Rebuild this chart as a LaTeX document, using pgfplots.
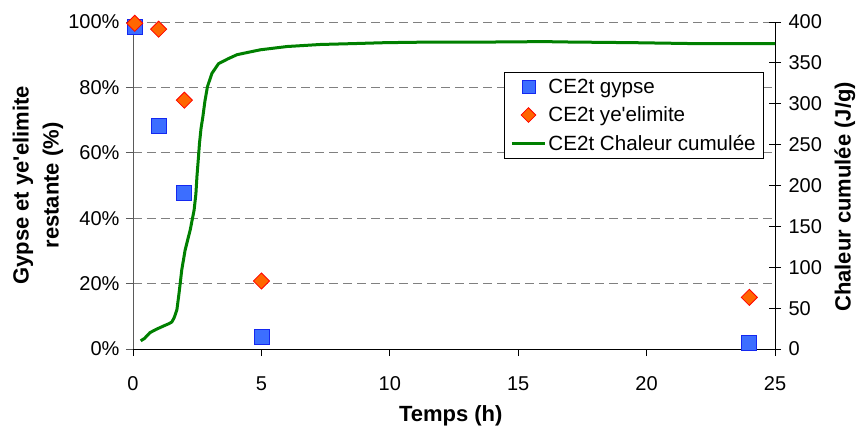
\documentclass[border=0pt]{standalone}
\usepackage{pgfplots}
\pgfplotsset{compat=1.18}
\usepackage{fontspec}
\setmainfont{Liberation Sans}
\definecolor{gridgray}{RGB}{128,128,128}
\definecolor{axgray}{RGB}{90,90,90}
\definecolor{sqfill}{RGB}{60,110,255}
\definecolor{sqdraw}{RGB}{20,40,240}
\definecolor{dfill}{RGB}{255,102,0}
\definecolor{ddraw}{RGB}{255,0,0}
\definecolor{heat}{RGB}{0,128,0}
\newcommand{\tickfont}{\fontsize{20}{22}\selectfont}
\newcommand{\labfont}{\fontsize{22}{30}\selectfont\bfseries}
\newcommand{\legfont}{\fontsize{20.6}{24}\selectfont}
\pgfplotsset{legimg/.style={legend image code/.code={\draw[mark repeat=2,mark phase=2,##1] plot coordinates {(0pt,0pt) (16.5pt,0pt) (33pt,0pt)};}}}
\begin{document}
\begin{tikzpicture}
\begin{axis}[
  name=a,
  scale only axis, width=642pt, height=327pt,
  xmin=0, xmax=25, ymin=0, ymax=100,
  axis x line*=bottom, axis y line*=left,
  x axis line style={-,black,line width=0.9pt},
  y axis line style={-,axgray,line width=0.9pt},
  xtick={0,5,10,15,20,25}, xticklabels={0,5,10,15,20,25},
  ytick={0,20,40,60,80,100}, yticklabels={0\%,20\%,40\%,60\%,80\%,100\%},
  tick align=outside, major tick length=7pt,
  xtick style={black,line width=0.8pt},
  ytick style={axgray,line width=0.8pt},
  ticklabel style={font=\tickfont},
  xticklabel style={yshift=-17pt},
  yticklabel style={xshift=-3pt},
  ymajorgrids, major grid style={gridgray,dash pattern=on 9pt off 5pt,line width=0.9pt},
  xlabel={Temps (h)},
  xlabel style={font=\labfont, at={(axis description cs:0.495,0)}, anchor=center, yshift=-67pt},
  ylabel={Gypse et ye\textquotesingle elimite\\restante (\%)},
  ylabel style={font=\labfont, align=center, at={(axis description cs:-0.148,0.5)}, anchor=center},
  clip=false,
]
\addplot[only marks, mark=square*, mark size=7.5pt, mark options={fill=sqfill, draw=sqdraw, line width=0.8pt}]
  coordinates {(0.07,98.6) (1,68.3) (2,47.8) (5,3.7) (24,1.8)};
\addplot[only marks, mark=square*, mark size=5.7pt, mark options={rotate=45, fill=dfill, draw=ddraw, line width=0.8pt}]
  coordinates {(0.07,99.6) (1,97.8) (2,76.1) (5,20.8) (24,15.8)};
\end{axis}
\begin{axis}[
  scale only axis, width=642pt, height=327pt,
  xmin=0, xmax=25, ymin=0, ymax=400,
  axis y line*=right, hide x axis,
  y axis line style={-,black,line width=0.9pt},
  ytick={0,50,100,150,200,250,300,350,400},
  yticklabels={0,50,100,150,200,250,300,350,400},
  tick align=center, major tick length=12pt,
  ytick style={black,line width=0.8pt},
  ticklabel style={font=\tickfont},
  yticklabel style={xshift=4pt},
  ylabel={Chaleur cumulée (J/g)},
  ylabel style={font=\labfont, at={(axis description cs:1.109,0.465)}, anchor=center},
  legend style={at={(0.578,0.847)}, anchor=north west, draw=black, line width=0.8pt, font=\legfont,
    inner xsep=6pt, inner ysep=4.5pt, row sep=8pt, cells={anchor=west}},
  legend cell align=left,
  legimg,
  clip=false,
]
\addlegendimage{only marks, mark=square*, mark size=6.5pt, mark options={fill=sqfill, draw=sqdraw, line width=0.8pt}, legimg}
\addlegendentry{CE2t gypse}
\addlegendimage{only marks, mark=square*, mark size=5.2pt, mark options={rotate=45, fill=dfill, draw=ddraw, line width=0.8pt}, legimg}
\addlegendentry{CE2t ye\textquotesingle elimite}
\addplot[heat, line width=3pt, line join=round, legimg] coordinates {
(0.30,10) (0.45,13) (0.66,20) (0.9,24) (1.18,28) (1.4,31) (1.51,33) (1.6,38)
(1.71,48) (1.8,70) (1.90,97) (2.03,121) (2.23,146) (2.38,170) (2.45,190)
(2.49,211) (2.55,235) (2.59,252) (2.65,270) (2.72,284) (2.80,303) (2.90,321)
(3.07,337) (3.33,349) (3.7,355) (4.05,360) (4.5,363) (4.96,366) (6.0,370)
(7.3,372.5) (8.5,373.5) (9.8,374.7) (11.7,375.5) (14,375.5) (16,376) (17,375.5)
(19.5,374.7) (22,373.5) (25,373.5)};
\addlegendentry{CE2t Chaleur cumulée}
\end{axis}
\pgfresetboundingbox
\path ([xshift=-133pt,yshift=-81pt]a.south west) rectangle ([xshift=86pt,yshift=22pt]a.north east);
\end{tikzpicture}
\end{document}
